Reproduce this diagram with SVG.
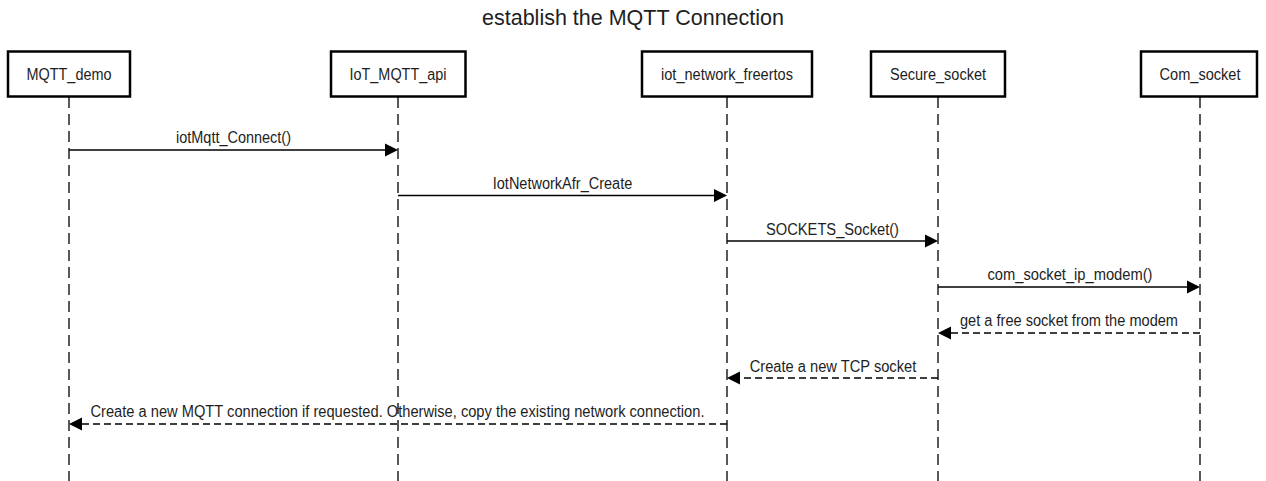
<svg xmlns="http://www.w3.org/2000/svg" width="1266" height="481" viewBox="0 0 1266 481">
<style>
.box{fill:#fff;stroke:#000;stroke-width:2.5}
.life{stroke:#000;stroke-width:1.3;stroke-dasharray:11 6;fill:none}
.lbl{font-family:"Liberation Sans",Arial,sans-serif;font-size:16px;fill:#1e1e1e;text-anchor:middle}
.title{font-family:"Liberation Sans",Arial,sans-serif;font-size:21.5px;fill:#1e1e1e;text-anchor:middle}
.msg{stroke:#000;stroke-width:1.3;fill:none}
.ret{stroke:#000;stroke-width:1.3;fill:none;stroke-dasharray:7 4}
.head{fill:#000}
</style>
<rect width="1266" height="481" fill="#fff"/>
<text class="title" x="633" y="25">establish the MQTT Connection</text>
<g id="lifelines">
<line class="life" x1="69" y1="97" x2="69" y2="481"/>
<line class="life" x1="398" y1="97" x2="398" y2="481"/>
<line class="life" x1="727" y1="97" x2="727" y2="481"/>
<line class="life" x1="938" y1="97" x2="938" y2="481"/>
<line class="life" x1="1200" y1="97" x2="1200" y2="481"/>
</g>
<g id="node-mqtt-demo">
<rect class="box" x="8" y="51.5" width="122" height="45"/>
<text class="lbl" x="69" y="80" textLength="85" lengthAdjust="spacingAndGlyphs">MQTT_demo</text>
</g>
<g id="node-iot-mqtt-api">
<rect class="box" x="331" y="51.5" width="134.5" height="45"/>
<text class="lbl" x="398" y="80" textLength="97" lengthAdjust="spacingAndGlyphs">IoT_MQTT_api</text>
</g>
<g id="node-iot-network-freertos">
<rect class="box" x="642" y="51.5" width="170" height="45"/>
<text class="lbl" x="727" y="80" textLength="132" lengthAdjust="spacingAndGlyphs">iot_network_freertos</text>
</g>
<g id="node-secure-socket">
<rect class="box" x="871" y="51.5" width="134" height="45"/>
<text class="lbl" x="938" y="80" textLength="96" lengthAdjust="spacingAndGlyphs">Secure_socket</text>
</g>
<g id="node-com-socket">
<rect class="box" x="1141" y="51.5" width="116" height="45"/>
<text class="lbl" x="1200" y="80" textLength="81" lengthAdjust="spacingAndGlyphs">Com_socket</text>
</g>
<g id="connectors">
<line class="msg" x1="69" y1="150" x2="386" y2="150"/>
<polygon class="head" points="398,150 385,143.5 385,156.5"/>
<text class="lbl" x="233.5" y="143" textLength="115" lengthAdjust="spacingAndGlyphs">iotMqtt_Connect()</text>

<line class="msg" x1="398" y1="195.5" x2="715" y2="195.5"/>
<polygon class="head" points="727,195.5 714,189 714,202"/>
<text class="lbl" x="562.5" y="189" textLength="139.5" lengthAdjust="spacingAndGlyphs">IotNetworkAfr_Create</text>

<line class="msg" x1="727" y1="241" x2="926" y2="241"/>
<polygon class="head" points="938,241 925,234.5 925,247.5"/>
<text class="lbl" x="832.5" y="234.5" textLength="133" lengthAdjust="spacingAndGlyphs">SOCKETS_Socket()</text>

<line class="msg" x1="938" y1="287" x2="1188" y2="287"/>
<polygon class="head" points="1200,287 1187,280.5 1187,293.5"/>
<text class="lbl" x="1070" y="280" textLength="165" lengthAdjust="spacingAndGlyphs">com_socket_ip_modem()</text>

<line class="ret" x1="1200" y1="333" x2="950" y2="333"/>
<polygon class="head" points="938,333 951,326.5 951,339.5"/>
<text class="lbl" x="1069" y="326" textLength="218" lengthAdjust="spacingAndGlyphs">get a free socket from the modem</text>

<line class="ret" x1="938" y1="378" x2="739" y2="378"/>
<polygon class="head" points="727,378 740,371.5 740,384.5"/>
<text class="lbl" x="833" y="371.5" textLength="166.5" lengthAdjust="spacingAndGlyphs">Create a new TCP socket</text>

<line class="ret" x1="727" y1="424" x2="81" y2="424"/>
<polygon class="head" points="69,424 82,417.5 82,430.5"/>
<text class="lbl" x="397.5" y="417" textLength="614" lengthAdjust="spacingAndGlyphs">Create a new MQTT connection if requested. Otherwise, copy the existing network connection.</text>
</g>
</svg>
